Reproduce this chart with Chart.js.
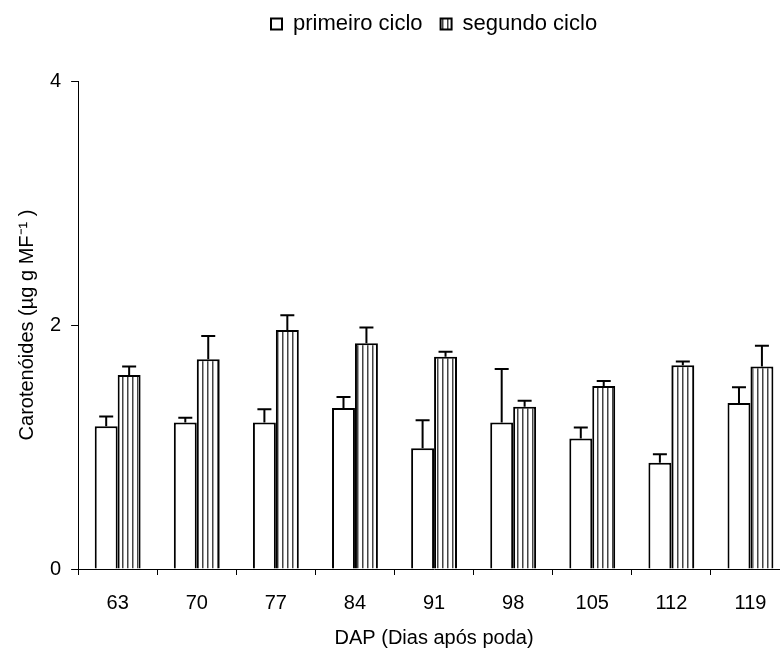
<!DOCTYPE html>
<html>
<head>
<meta charset="utf-8">
<script src="https://cdn.jsdelivr.net/npm/chart.js@4.4.0/dist/chart.umd.min.js"></script>
<style>
  html, body { margin: 0; padding: 0; background: #fff; overflow: hidden; }
  #wrap { width: 792px; height: 650px; }
</style>
</head>
<body>
<div id="wrap"><canvas id="carotChart"></canvas></div>
<script>
// dias apos poda
const dap = ["63", "70", "77", "84", "91", "98", "105", "112", "119"];

// carotenoides, primeiro e segundo ciclo
const primeiroCiclo = [1.17, 1.20, 1.20, 1.32, 0.99, 1.20, 1.07, 0.87, 1.36];
const primeiroErro  = [0.08, 0.04, 0.11, 0.09, 0.23, 0.44, 0.09, 0.07, 0.13];
const segundoCiclo  = [1.59, 1.72, 1.96, 1.85, 1.74, 1.33, 1.50, 1.67, 1.66];
const segundoErro   = [0.07, 0.19, 0.12, 0.13, 0.04, 0.05, 0.04, 0.03, 0.17];

const yTicks = [0, 2, 4];

// vertical stripes for the second cycle
const makeStripes = () => {
  const c = document.createElement("canvas");
  c.width = 5;
  c.height = 10;
  const g = c.getContext("2d");
  g.fillStyle = "#fff";
  g.fillRect(0, 0, 5, 10);
  g.fillStyle = "#444";
  g.fillRect(2, 0, 1.5, 10);
  return g.createPattern(c, "repeat");
};
const stripes = makeStripes();

// upward error bars only
const errorBars = {
  id: "errorBars",
  afterDatasetsDraw(chart) {
    const ctx = chart.ctx;
    const y = chart.scales.y;
    const errs = [primeiroErro, segundoErro];
    ctx.save();
    ctx.strokeStyle = "#000";
    ctx.lineWidth = 2;
    chart.data.datasets.forEach((ds, di) => {
      const meta = chart.getDatasetMeta(di);
      meta.data.forEach((bar, i) => {
        const top = y.getPixelForValue(ds.data[i] + errs[di][i]);
        ctx.beginPath();
        ctx.moveTo(bar.x, bar.y);
        ctx.lineTo(bar.x, top);
        ctx.moveTo(bar.x - 7, top);
        ctx.lineTo(bar.x + 7, top);
        ctx.stroke();
      });
    });
    ctx.restore();
  }
};

// legend gets a fixed height and is centred over the plot area
const legendPlace = {
  id: "legendPlace",
  beforeInit(chart) {
    const fit = chart.legend.fit;
    chart.legend.fit = function () {
      fit.bind(chart.legend)();
      this.height = 81;
    };
  },
  afterLayout(chart) {
    chart.legend.top = -5;
    chart.legend.left = chart.chartArea.left;
    chart.legend.right = chart.chartArea.right;
  }
};

const fonte = { family: "'Liberation Sans', Arial, sans-serif", size: 20 };

new Chart(document.getElementById("carotChart"), {
  type: "bar",
  data: {
    labels: dap,
    datasets: [
      {
        label: "primeiro ciclo",
        data: primeiroCiclo,
        backgroundColor: "#fff",
        borderColor: "#000",
        borderWidth: 2,
        borderSkipped: "bottom"
      },
      {
        label: "segundo ciclo",
        data: segundoCiclo,
        backgroundColor: stripes,
        borderColor: "#000",
        borderWidth: 2,
        borderSkipped: "bottom"
      }
    ]
  },
  options: {
    responsive: true,
    maintainAspectRatio: false,
    animation: false,
    layout: { padding: { top: 0, right: 2, bottom: 0, left: 11 } },
    datasets: { bar: { categoryPercentage: 0.58, barPercentage: 1.0 } },
    plugins: {
      tooltip: { enabled: false },
      legend: {
        position: "top",
        align: "center",
        labels: {
          color: "#000",
          font: { family: fonte.family, size: 22 },
          boxWidth: 11,
          boxHeight: 11,
          padding: 18
        },
        onClick: null
      }
    },
    scales: {
      x: {
        offset: true,
        grid: {
          offset: true,
          drawOnChartArea: false,
          color: "#000",
          tickLength: 6
        },
        border: { display: true, color: "#000", width: 1 },
        ticks: { color: "#000", font: fonte, padding: 16 },
        title: {
          display: true,
          text: "DAP (Dias após poda)",
          color: "#000",
          font: fonte,
          padding: { top: -5, bottom: 0 }
        }
      },
      y: {
        min: 0,
        max: 4,
        afterBuildTicks: (axis) => { axis.ticks = yTicks.map(v => ({ value: v })); },
        grid: {
          drawOnChartArea: false,
          color: "#000",
          tickLength: 7
        },
        border: { display: true, color: "#000", width: 1 },
        ticks: { color: "#000", font: fonte, padding: 10 },
        title: {
          display: true,
          text: "Carotenóides (µg g MF\u207B\u00B9 )",
          color: "#000",
          font: fonte,
          padding: { top: 4, bottom: 1 }
        }
      }
    }
  },
  plugins: [errorBars, legendPlace]
});
</script>
</body>
</html>
